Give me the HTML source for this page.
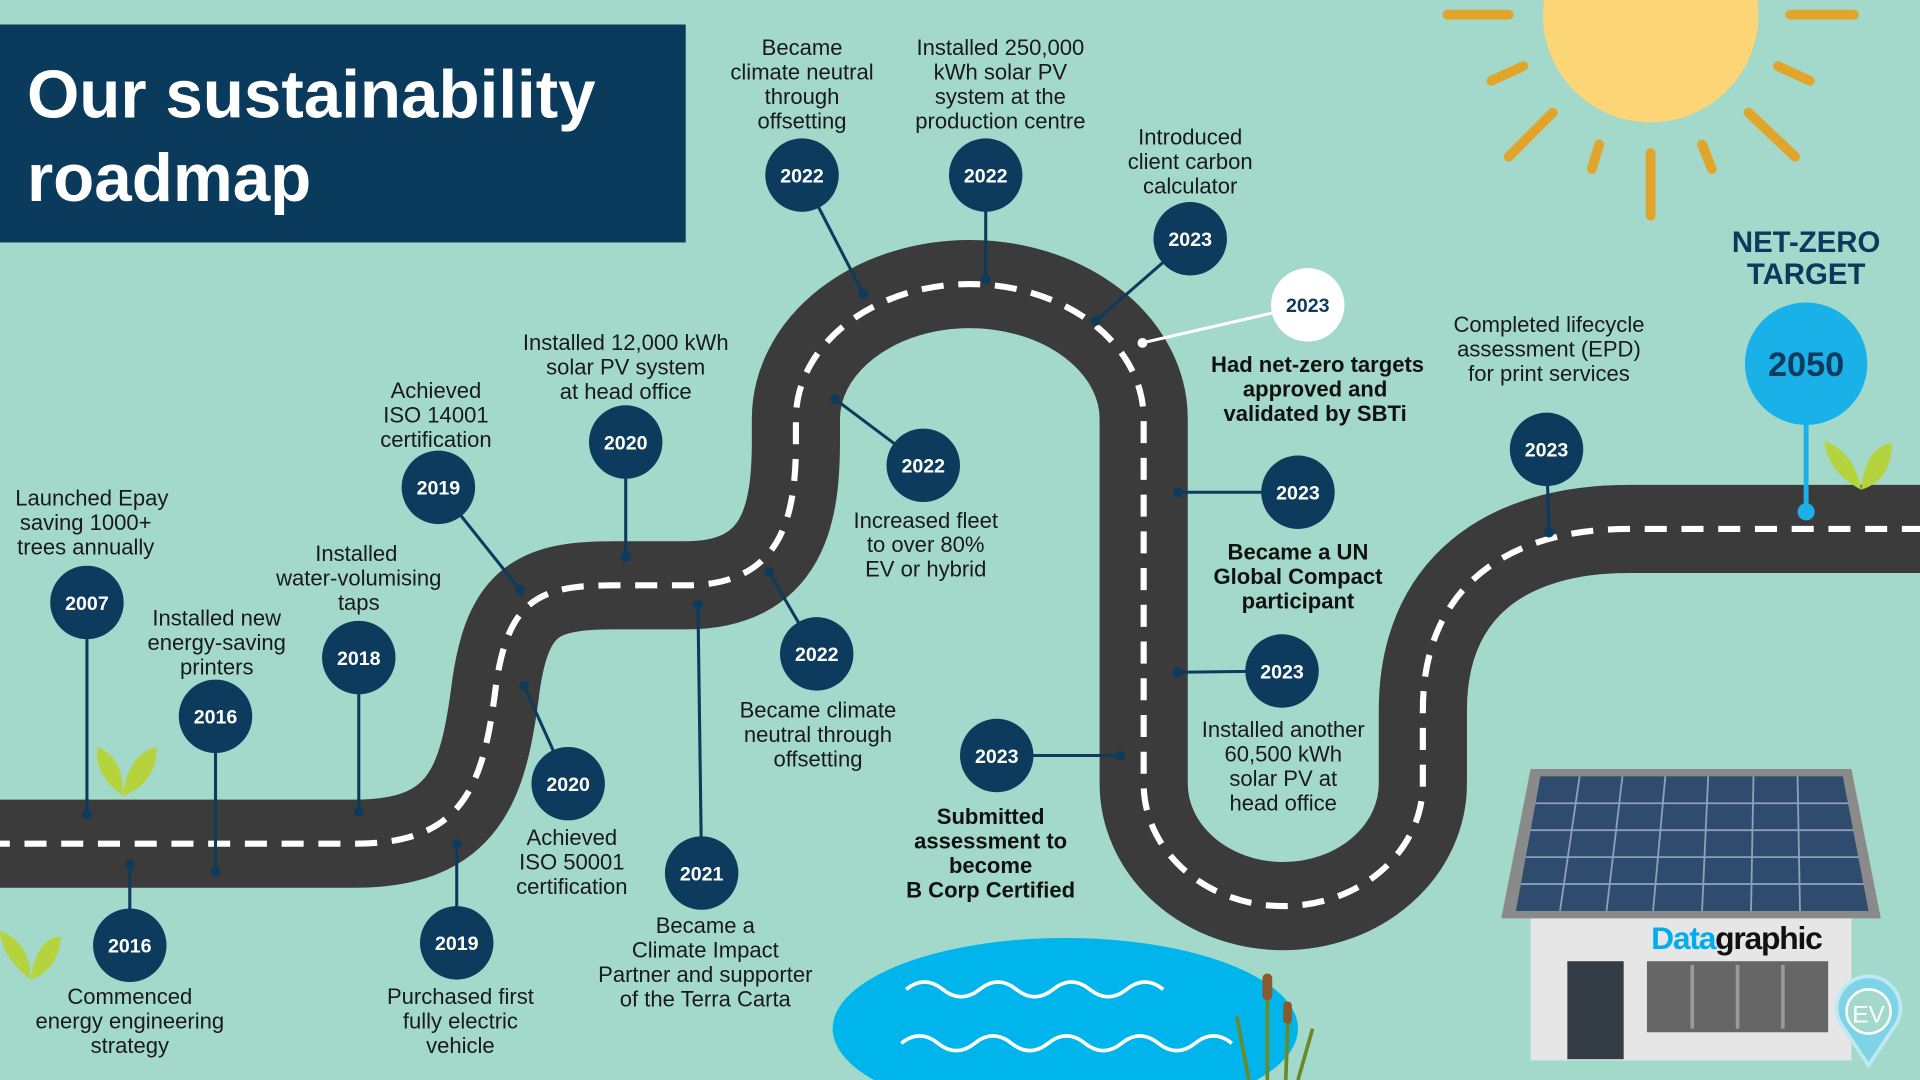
<!DOCTYPE html>
<html><head><meta charset="utf-8"><style>
html,body{margin:0;padding:0;background:#a3d9cb;}
svg{display:block}
text{font-family:"Liberation Sans",sans-serif;}
.l{font-size:18px;fill:#1a1a1a;text-anchor:middle}
.b{font-size:18px;fill:#111;font-weight:bold;text-anchor:middle}
.y{font-size:16px;fill:#fff;font-weight:bold;text-anchor:middle}
.c{fill:#0d3b5e}
.k{stroke:#0d3b5e;stroke-width:2.5;fill:none}
</style></head><body>
<svg width="1920" height="1080" viewBox="0 0 1568 882" xmlns="http://www.w3.org/2000/svg">
<rect width="1568" height="882" fill="#a3d9cb"/>
<g stroke="#e0a52a" stroke-width="8" stroke-linecap="round">
<line x1="1182" y1="12" x2="1232" y2="12"/><line x1="1462" y1="12" x2="1514" y2="12"/>
<line x1="1218" y1="66" x2="1244" y2="54"/><line x1="1452" y1="54" x2="1478" y2="66"/>
<line x1="1232" y1="128" x2="1268" y2="92"/><line x1="1428" y1="92" x2="1466" y2="128"/>
<line x1="1300" y1="138" x2="1306" y2="118"/><line x1="1390" y1="118" x2="1398" y2="138"/>
<line x1="1348" y1="125" x2="1348" y2="176"/>
</g>
<circle cx="1348" cy="12" r="88" fill="#fcd576"/>
<rect x="0" y="20" width="560" height="178" fill="#0a3a5c"/>
<text x="22" y="96" font-size="55" font-weight="bold" fill="#fff">Our sustainability</text>
<text x="22" y="164" font-size="55" font-weight="bold" fill="#fff">roadmap</text>
<ellipse cx="870" cy="840" rx="190" ry="74" fill="#00b4ec"/>
<path d="M740,808 q15,-12 30,0 t30,0 t30,0 t30,0 t30,0 t30,0 t30,0" stroke="#fff" stroke-width="3" fill="none"/>
<path d="M736,852 q15,-12 30,0 t30,0 t30,0 t30,0 t30,0 t30,0 t30,0 t30,0 t30,0" stroke="#fff" stroke-width="3" fill="none"/>
<g stroke="#6a8a2a" stroke-width="3"><line x1="1035" y1="882" x2="1035" y2="800"/><line x1="1050" y1="882" x2="1052" y2="830"/><line x1="1020" y1="882" x2="1010" y2="830"/><line x1="1060" y1="882" x2="1072" y2="840"/></g>
<rect x="1031" y="795" width="8" height="22" rx="4" fill="#8a5a2a"/><rect x="1048" y="818" width="7" height="18" rx="3" fill="#8a5a2a"/>
<path d="M-10,689 L290,689 C380,689 395,640 405,560 C415,490 440,478 500,478 L560,478 C640,478 650,420 650,360 L650,342 A142,110 0 0 1 934,342 L934,640 A114,100 0 0 0 1162,640 L1162,580 C1162,480 1230,432 1330,432 L1580,432" fill="none" stroke="#3b3b3b" stroke-width="72"/>
<path d="M-10,689 L290,689 C380,689 395,640 405,560 C415,490 440,478 500,478 L560,478 C640,478 650,420 650,360 L650,342 A142,110 0 0 1 934,342 L934,640 A114,100 0 0 0 1162,640 L1162,580 C1162,480 1230,432 1330,432 L1580,432" fill="none" stroke="#fff" stroke-width="5" stroke-dasharray="18 12"/>
<g fill="#b5d33d"><path d="M100,650 q-25,-20 -20,-40 q22,10 20,40z"/><path d="M100,650 q5,-35 28,-40 q0,30 -28,40z"/>
<path d="M25,800 q-25,-20 -25,-40 q25,10 25,40z"/><path d="M25,800 q5,-35 25,-35 q-3,28 -25,35z"/>
<path d="M1520,400 q-28,-15 -30,-40 q25,10 30,40z"/><path d="M1520,400 q3,-35 25,-38 q0,30 -25,38z"/></g>
<rect x="1250" y="740" width="262" height="126" fill="#e6e6e6"/>
<rect x="1280" y="785" width="46" height="80" fill="#333c44"/>
<rect x="1345" y="785" width="148" height="58" fill="#666"/>
<g stroke="#9a9a9a" stroke-width="3"><line x1="1382" y1="788" x2="1382" y2="840"/><line x1="1419" y1="788" x2="1419" y2="840"/><line x1="1456" y1="788" x2="1456" y2="840"/></g>
<text x="1418" y="775" font-size="26" font-weight="bold" fill="#00aeef" text-anchor="middle" letter-spacing="-1">Data<tspan fill="#111">graphic</tspan></text>
<polygon points="1250,628 1512,628 1536,750 1226,750" fill="#8a8a8a"/>
<polygon points="1258,634 1505,634 1526,744 1238,744" fill="#2f4b6e"/>
<g stroke="#8aa0bb" stroke-width="1.5">
<line x1="1254" y1="656" x2="1510" y2="656"/><line x1="1250" y1="678" x2="1514" y2="678"/><line x1="1246" y1="700" x2="1518" y2="700"/><line x1="1242" y1="722" x2="1522" y2="722"/>
<line x1="1290" y1="634" x2="1274" y2="744"/><line x1="1325" y1="634" x2="1312" y2="744"/><line x1="1360" y1="634" x2="1350" y2="744"/><line x1="1395" y1="634" x2="1390" y2="744"/><line x1="1432" y1="634" x2="1430" y2="744"/><line x1="1468" y1="634" x2="1470" y2="744"/></g>
<path d="M1526,870 L1506,840 A26,26 0 1 1 1546,840 Z" fill="#7fd3e6" stroke="#bfe9f2" stroke-width="3"/>
<circle cx="1526" cy="826" r="18" fill="#a3d9cb" stroke="#fff" stroke-width="2"/>
<text x="1526" y="835" font-size="20" fill="#fff" text-anchor="middle">EV</text>
<g class="k">
<line x1="71" y1="492" x2="71" y2="665"/><line x1="176" y1="585" x2="176" y2="712"/><line x1="293" y1="537" x2="293" y2="663"/>
<line x1="106" y1="772" x2="106" y2="706"/><line x1="373" y1="770" x2="373" y2="689"/><line x1="358" y1="398" x2="425" y2="482"/>
<line x1="464" y1="640" x2="428" y2="560"/><line x1="511" y1="361" x2="511" y2="455"/><line x1="573" y1="713" x2="570" y2="494"/>
<line x1="667" y1="534" x2="628" y2="467"/><line x1="754" y1="380" x2="682" y2="326"/><line x1="655" y1="143" x2="705" y2="240"/>
<line x1="805" y1="143" x2="805" y2="228"/><line x1="972" y1="195" x2="895" y2="262"/><line x1="1060" y1="402" x2="962" y2="402"/>
<line x1="1047" y1="548" x2="962" y2="549"/><line x1="814" y1="617" x2="915" y2="617"/><line x1="1263" y1="367" x2="1265" y2="435"/>
</g>
<g fill="#0d3b5e"><circle cx="71" cy="665" r="4"/><circle cx="176" cy="712" r="4"/><circle cx="293" cy="663" r="4"/><circle cx="106" cy="706" r="4"/><circle cx="373" cy="689" r="4"/><circle cx="425" cy="482" r="4"/><circle cx="428" cy="560" r="4"/><circle cx="511" cy="455" r="4"/><circle cx="570" cy="494" r="4"/><circle cx="628" cy="467" r="4"/><circle cx="682" cy="326" r="4"/><circle cx="705" cy="240" r="4"/><circle cx="805" cy="228" r="4"/><circle cx="895" cy="262" r="4"/><circle cx="962" cy="402" r="4"/><circle cx="962" cy="549" r="4"/><circle cx="915" cy="617" r="4"/><circle cx="1265" cy="435" r="4"/></g>
<line x1="1068" y1="249" x2="933" y2="280" stroke="#fff" stroke-width="2.5"/><circle cx="933" cy="280" r="4" fill="#fff"/>
<line x1="1475" y1="297" x2="1475" y2="418" stroke="#1ab0e8" stroke-width="4"/><circle cx="1475" cy="418" r="7" fill="#1ab0e8"/>
<g class="c">
<circle cx="71" cy="492" r="30"/><circle cx="176" cy="585" r="30"/><circle cx="293" cy="537" r="30"/><circle cx="106" cy="772" r="30"/><circle cx="373" cy="770" r="30"/><circle cx="358" cy="398" r="30"/><circle cx="464" cy="640" r="30"/><circle cx="511" cy="361" r="30"/><circle cx="573" cy="713" r="30"/><circle cx="667" cy="534" r="30"/><circle cx="754" cy="380" r="30"/><circle cx="655" cy="143" r="30"/><circle cx="805" cy="143" r="30"/><circle cx="972" cy="195" r="30"/><circle cx="1060" cy="402" r="30"/><circle cx="1047" cy="548" r="30"/><circle cx="814" cy="617" r="30"/><circle cx="1263" cy="367" r="30"/>
</g>
<circle cx="1068" cy="249" r="30" fill="#fff"/>
<circle cx="1475" cy="297" r="50" fill="#1ab0e8"/>
<g class="y">
<text x="71" y="498">2007</text><text x="176" y="591">2016</text><text x="293" y="543">2018</text><text x="106" y="778">2016</text><text x="373" y="776">2019</text><text x="358" y="404">2019</text><text x="464" y="646">2020</text><text x="511" y="367">2020</text><text x="573" y="719">2021</text><text x="667" y="540">2022</text><text x="754" y="386">2022</text><text x="655" y="149">2022</text><text x="805" y="149">2022</text><text x="972" y="201">2023</text><text x="1060" y="408">2023</text><text x="1047" y="554">2023</text><text x="814" y="623">2023</text><text x="1263" y="373">2023</text>
<text x="1068" y="255" fill="#0d3b5e">2023</text>
</g>
<text x="1475" y="307" font-size="28" font-weight="bold" fill="#0d3b5e" text-anchor="middle">2050</text>
<text x="1475" y="206" font-size="24" font-weight="bold" fill="#0a3a5c" text-anchor="middle">NET-ZERO</text>
<text x="1475" y="232" font-size="24" font-weight="bold" fill="#0a3a5c" text-anchor="middle">TARGET</text>
<g class="l">
<text y="413"><tspan x="75">Launched Epay</tspan><tspan x="70" dy="20">saving 1000+</tspan><tspan x="70" dy="20">trees annually</tspan></text>
<text y="511"><tspan x="177">Installed new</tspan><tspan x="177" dy="20">energy-saving</tspan><tspan x="177" dy="20">printers</tspan></text>
<text y="458"><tspan x="291">Installed</tspan><tspan x="293" dy="20">water-volumising</tspan><tspan x="293" dy="20">taps</tspan></text>
<text y="325"><tspan x="356">Achieved</tspan><tspan x="356" dy="20">ISO 14001</tspan><tspan x="356" dy="20">certification</tspan></text>
<text y="286"><tspan x="511">Installed 12,000 kWh</tspan><tspan x="511" dy="20">solar PV system</tspan><tspan x="511" dy="20">at head office</tspan></text>
<text y="45"><tspan x="655">Became</tspan><tspan x="655" dy="20">climate neutral</tspan><tspan x="655" dy="20">through</tspan><tspan x="655" dy="20">offsetting</tspan></text>
<text y="45"><tspan x="817">Installed 250,000</tspan><tspan x="817" dy="20">kWh solar PV</tspan><tspan x="817" dy="20">system at the</tspan><tspan x="817" dy="20">production centre</tspan></text>
<text y="118"><tspan x="972">Introduced</tspan><tspan x="972" dy="20">client carbon</tspan><tspan x="972" dy="20">calculator</tspan></text>
<text y="271"><tspan x="1265">Completed lifecycle</tspan><tspan x="1265" dy="20">assessment (EPD)</tspan><tspan x="1265" dy="20">for print services</tspan></text>
<text y="431"><tspan x="756">Increased fleet</tspan><tspan x="756" dy="20">to over 80%</tspan><tspan x="756" dy="20">EV or hybrid</tspan></text>
<text y="586"><tspan x="668">Became climate</tspan><tspan x="668" dy="20">neutral through</tspan><tspan x="668" dy="20">offsetting</tspan></text>
<text y="602"><tspan x="1048">Installed another</tspan><tspan x="1048" dy="20">60,500 kWh</tspan><tspan x="1048" dy="20">solar PV at</tspan><tspan x="1048" dy="20">head office</tspan></text>
<text y="690"><tspan x="467">Achieved</tspan><tspan x="467" dy="20">ISO 50001</tspan><tspan x="467" dy="20">certification</tspan></text>
<text y="762"><tspan x="576">Became a</tspan><tspan x="576" dy="20">Climate Impact</tspan><tspan x="576" dy="20">Partner and supporter</tspan><tspan x="576" dy="20">of the Terra Carta</tspan></text>
<text y="820"><tspan x="376">Purchased first</tspan><tspan x="376" dy="20">fully electric</tspan><tspan x="376" dy="20">vehicle</tspan></text>
<text y="820"><tspan x="106">Commenced</tspan><tspan x="106" dy="20">energy engineering</tspan><tspan x="106" dy="20">strategy</tspan></text>
</g>
<g class="b">
<text y="304"><tspan x="1076">Had net-zero targets</tspan><tspan x="1074" dy="20">approved and</tspan><tspan x="1074" dy="20">validated by SBTi</tspan></text>
<text y="457"><tspan x="1060">Became a UN</tspan><tspan x="1060" dy="20">Global Compact</tspan><tspan x="1060" dy="20">participant</tspan></text>
<text y="673"><tspan x="809">Submitted</tspan><tspan x="809" dy="20">assessment to</tspan><tspan x="809" dy="20">become</tspan><tspan x="809" dy="20">B Corp Certified</tspan></text>
</g>
</svg>
</body></html>
